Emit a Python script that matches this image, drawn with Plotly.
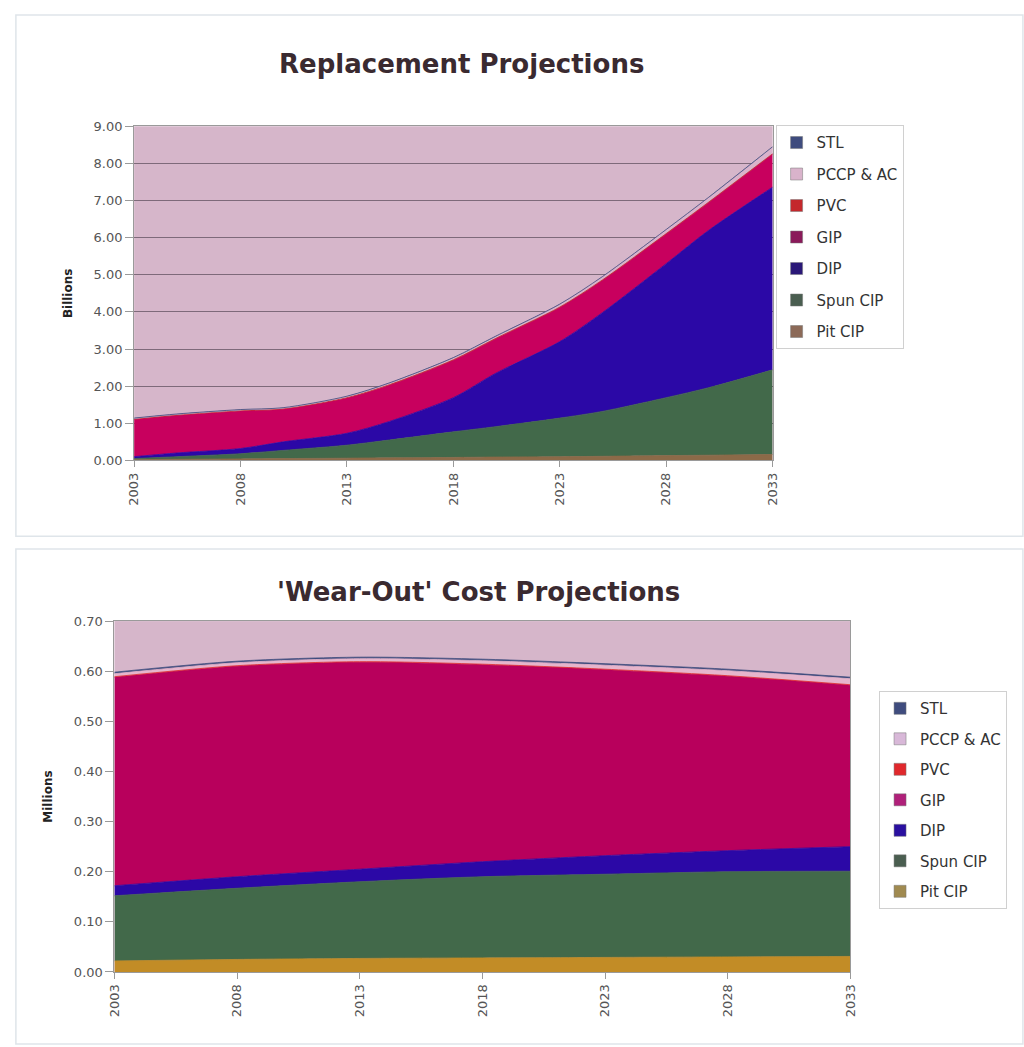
import plotly.graph_objects as go

# ---------------- data ----------------
series_names = ["Pit CIP", "Spun CIP", "DIP", "GIP", "PVC", "PCCP & AC", "STL"]

# Replacement Projections (Billions)
rep_years = [2003, 2005, 2008, 2010, 2013, 2015, 2018, 2020, 2023, 2025, 2028, 2030, 2033]
rep_pit = [0.02, 0.03, 0.04, 0.05, 0.06, 0.07, 0.08, 0.09, 0.10, 0.11, 0.13, 0.14, 0.16]
rep_spun = [0.03, 0.07, 0.14, 0.22, 0.35, 0.48, 0.69, 0.82, 1.04, 1.21, 1.56, 1.82, 2.28]
rep_dip = [0.05, 0.10, 0.14, 0.23, 0.32, 0.50, 0.92, 1.44, 2.06, 2.66, 3.61, 4.24, 4.92]
rep_gip = [1.00, 1.01, 1.01, 0.88, 0.95, 0.98, 1.01, 0.93, 0.92, 0.87, 0.80, 0.75, 0.89]
rep_pvc = [0.01, 0.01, 0.01, 0.01, 0.01, 0.01, 0.01, 0.01, 0.01, 0.01, 0.01, 0.01, 0.01]
rep_pccp = [0.02, 0.02, 0.02, 0.02, 0.03, 0.04, 0.05, 0.05, 0.07, 0.08, 0.10, 0.12, 0.18]
rep_stl = [0.01, 0.01, 0.01, 0.01, 0.01, 0.01, 0.01, 0.01, 0.01, 0.01, 0.01, 0.01, 0.01]

# 'Wear-Out' Cost Projections (Millions)
wo_years = [2003, 2008, 2013, 2018, 2023, 2028, 2033]
wo_pit = [0.022, 0.025, 0.027, 0.028, 0.029, 0.030, 0.031]
wo_spun = [0.130, 0.142, 0.153, 0.162, 0.166, 0.170, 0.170]
wo_dip = [0.020, 0.023, 0.025, 0.030, 0.037, 0.042, 0.049]
wo_gip = [0.416, 0.420, 0.413, 0.393, 0.371, 0.348, 0.322]
wo_pvc = [0.001, 0.001, 0.001, 0.001, 0.001, 0.001, 0.001]
wo_pccp = [0.006, 0.006, 0.006, 0.007, 0.008, 0.010, 0.012]
wo_stl = [0.003, 0.003, 0.003, 0.003, 0.003, 0.003, 0.003]

x_ticks = [2003, 2008, 2013, 2018, 2023, 2028, 2033]
rep_y_ticks = [0, 1, 2, 3, 4, 5, 6, 7, 8, 9]
wo_y_ticks = [0.0, 0.1, 0.2, 0.3, 0.4, 0.5, 0.6, 0.7]

# ---------------- styling ----------------
W, H = 1024, 1047
def px_x(p):
    return p / W
def px_y(p):
    return 1 - p / H

top_colors = {"Pit CIP": "#8C6A48", "Spun CIP": "#42694A", "DIP": "#2B08A6", "GIP": "#C8005E",
              "PVC": "#C4282C", "PCCP & AC": "#D9B3CB", "STL": "#3F4C7E"}
bot_colors = {"Pit CIP": "#C28C26", "Spun CIP": "#42694A", "DIP": "#2B08A6", "GIP": "#B8005C",
              "PVC": "#E0282C", "PCCP & AC": "#E6B5CC", "STL": "#3F4C7E"}
legend_top_colors = {"Pit CIP": "#8C6A58", "Spun CIP": "#4A5E50", "DIP": "#2A1878", "GIP": "#8A1A5A",
                     "PVC": "#C4282C", "PCCP & AC": "#D9B3CB", "STL": "#3F4C7E"}
legend_bot_colors = {"Pit CIP": "#A08A50", "Spun CIP": "#4A5E50", "DIP": "#2A10A0", "GIP": "#B0207A",
                     "PVC": "#E0282C", "PCCP & AC": "#D8B8D8", "STL": "#3F4C7E"}

FONT = "DejaVu Sans, Liberation Sans, sans-serif"

fig = go.Figure()

rep_vals = [rep_pit, rep_spun, rep_dip, rep_gip, rep_pvc, rep_pccp, rep_stl]
for name, vals in zip(series_names, rep_vals):
    c = top_colors[name]
    fig.add_trace(go.Scatter(
        x=rep_years, y=vals, name=name, mode="lines", stackgroup="rep",
        line=dict(color=c, width=0.8, shape="spline", smoothing=0.8),
        fillcolor=c, xaxis="x", yaxis="y", showlegend=False,
        hoverinfo="x+y+name"))

wo_vals = [wo_pit, wo_spun, wo_dip, wo_gip, wo_pvc, wo_pccp, wo_stl]
for name, vals in zip(series_names, wo_vals):
    c = bot_colors[name]
    fig.add_trace(go.Scatter(
        x=wo_years, y=vals, name=name, mode="lines", stackgroup="wo",
        line=dict(color=c, width=0.8, shape="spline", smoothing=0.8),
        fillcolor=c, xaxis="x2", yaxis="y2", showlegend=False,
        hoverinfo="x+y+name"))

# legend entries (square swatches), listed top-to-bottom: STL ... Pit CIP
for rank, name in enumerate(reversed(series_names)):
    fig.add_trace(go.Bar(x=[None], y=[None], name=name, xaxis="x", yaxis="y",
                         marker=dict(color=legend_top_colors[name], line=dict(color="#777", width=0.5)),
                         legend="legend", legendgroup="r" + name, legendrank=rank + 1,
                         showlegend=True, hoverinfo="skip"))
    fig.add_trace(go.Bar(x=[None], y=[None], name=name, xaxis="x2", yaxis="y2",
                         marker=dict(color=legend_bot_colors[name], line=dict(color="#777", width=0.5)),
                         legend="legend2", legendgroup="w" + name, legendrank=rank + 1,
                         showlegend=True, hoverinfo="skip"))

axis_common = dict(showline=True, linecolor="#9a9a9a", linewidth=1, mirror=True,
                   tickfont=dict(family=FONT, size=13, color="#555555"),
                   ticks="outside", tickcolor="#9a9a9a", zeroline=False)

fig.update_layout(
    width=W, height=H,
    margin=dict(l=0, r=0, t=0, b=0),
    paper_bgcolor="white",
    plot_bgcolor="#D6B6CA",
    showlegend=True,
    xaxis=dict(domain=[px_x(128), px_x(776)], range=[2003, 2033], anchor="y",
               tickvals=x_ticks, ticktext=[str(v) for v in x_ticks], tickangle=-90,
               showgrid=False, ticklen=6, **axis_common),
    yaxis=dict(domain=[px_y(460), px_y(121)], range=[0, 9], anchor="x",
               tickvals=rep_y_ticks, ticktext=[f"{v:.2f}" for v in rep_y_ticks],
               showgrid=True, gridcolor="#7E6A7A", gridwidth=1, ticklen=8,
               title=dict(text="<b>Billions</b>", font=dict(family=FONT, size=12, color="#222"), standoff=18),
               **axis_common),
    xaxis2=dict(domain=[px_x(108), px_x(855)], range=[2003, 2033], anchor="y2",
                tickvals=x_ticks, ticktext=[str(v) for v in x_ticks], tickangle=-90,
                showgrid=False, ticklen=6, **axis_common),
    yaxis2=dict(domain=[px_y(979), px_y(623)], range=[0, 0.7], anchor="x2",
                tickvals=wo_y_ticks, ticktext=[f"{v:.2f}" for v in wo_y_ticks],
                showgrid=False, ticklen=8,
                title=dict(text="<b>Millions</b>", font=dict(family=FONT, size=12, color="#222"), standoff=18),
                **axis_common),
    legend=dict(x=px_x(779), y=px_y(120), xanchor="left", yanchor="top",
                traceorder="grouped", tracegroupgap=9,
                bgcolor="white", bordercolor="#d0d0d0", borderwidth=1,
                font=dict(family=FONT, size=15, color="#333333"), itemwidth=30),
    legend2=dict(x=px_x(884), y=px_y(694), xanchor="left", yanchor="top",
                 traceorder="grouped", tracegroupgap=8,
                 bgcolor="white", bordercolor="#d0d0d0", borderwidth=1,
                 font=dict(family=FONT, size=15, color="#333333"), itemwidth=30),
)

# chart boxes (outline only)
fig.add_shape(type="rect", xref="paper", yref="paper", x0=px_x(8), x1=px_x(1030),
              y0=px_y(537), y1=px_y(8), line=dict(color="#dfe5ea", width=1.5), layer="below")
fig.add_shape(type="rect", xref="paper", yref="paper", x0=px_x(8), x1=px_x(1030),
              y0=px_y(1052), y1=px_y(550), line=dict(color="#dfe5ea", width=1.5), layer="below")

# titles
fig.add_annotation(text="<b>Replacement Projections</b>", xref="paper", yref="paper",
                   x=px_x(460), y=px_y(58), showarrow=False, xanchor="center", yanchor="middle",
                   font=dict(family="DejaVu Sans, sans-serif", size=26, color="#3a2a30"))
fig.add_annotation(text="<b>'Wear-Out' Cost Projections</b>", xref="paper", yref="paper",
                   x=px_x(478), y=px_y(594), showarrow=False, xanchor="center", yanchor="middle",
                   font=dict(family="DejaVu Sans, sans-serif", size=26, color="#3a2a30"))

fig.write_html("out.html")
